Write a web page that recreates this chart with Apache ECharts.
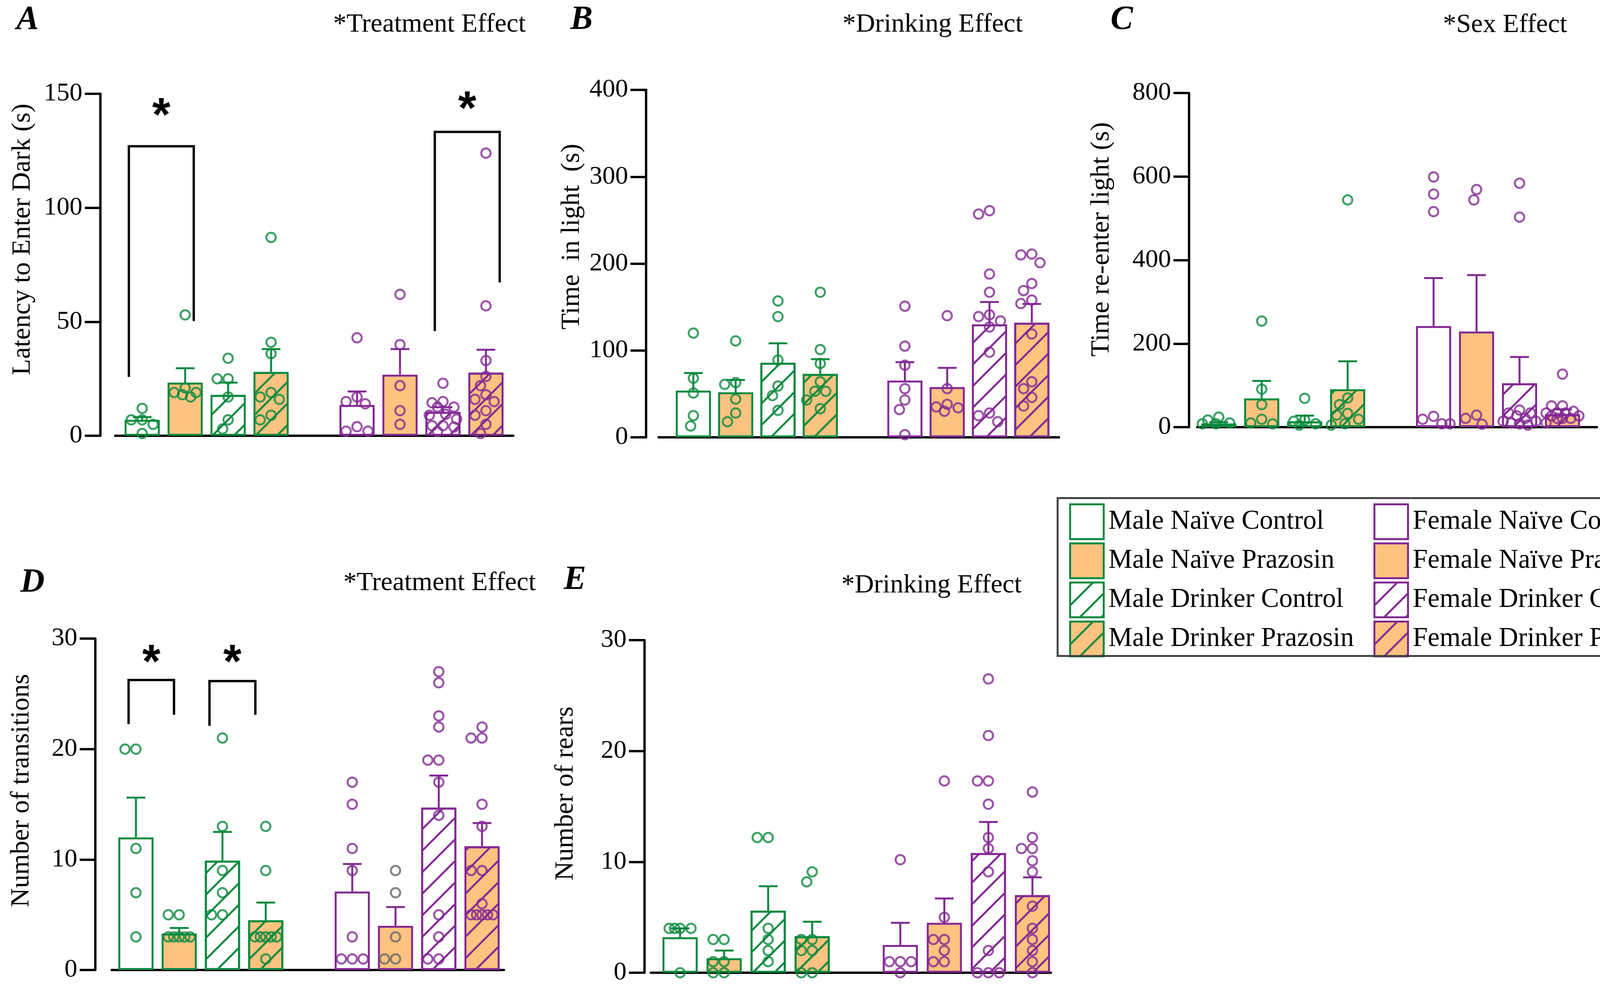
<!DOCTYPE html>
<html>
<head>
<meta charset="utf-8">
<title>Light-dark box</title>
<script src="https://cdn.jsdelivr.net/npm/echarts@6/dist/echarts.min.js"></script>
<style>
    html, body { margin: 0; padding: 0; background: #fff; }
    #main { width: 4342px; height: 2546px; }
</style>
</head>
<body>
<div id="main"></div>
<script>
// groups in plotting order, slot 5 is the gap between male and female
var groups = ['Male Naïve Control', 'Male Naïve Prazosin', 'Male Drinker Control', 'Male Drinker Prazosin',
    'Female Naïve Control', 'Female Naïve Prazosin', 'Female Drinker Control', 'Female Drinker Prazosin'];
var slots = [1, 2, 3, 4, 6, 7, 8, 9];

// A - latency to enter dark
var latencyMeans = [7, 23.3, 17.9, 28, 13.5, 26.8, 10.5, 27.7];
var latencySems = [1.2, 6.3, 5.4, 10, 5.9, 11.2, 2, 10];
var latencyPoints = [
    [12, 7, 7, 5, 1],
    [53, 21, 19, 19, 18, 17],
    [34, 25, 25, 17, 7, 3],
    [87, 41, 36, 19, 17, 16, 9, 7],
    [43, 17, 15, 14, 4, 2, 2],
    [62, 40, 22, 11, 5],
    [23, 15, 14.5, 12.6, 12.6, 9.4, 9, 7.3, 4.4, 4.4, 3.8, 1.9],
    [124, 57, 33, 26, 22, 18, 16, 15, 11, 9, 5, 1]
];
var latencyBrackets = [
    { x1: 0.69, x2: 2.2, top: 127, y1: 25.8, y2: 50.3, star: 144 },
    { x1: 7.81, x2: 9.32, top: 133.3, y1: 45.9, y2: 67.3, star: 147 }
];

// B - time in light
var lightMeans = [53.8, 51.8, 85.8, 73, 65.3, 57.8, 130, 132];
var lightSems = [20.2, 14.2, 22.4, 17, 21.2, 22.2, 25.8, 21.5];
var lightPoints = [
    [120, 68, 51, 25, 13],
    [111, 63, 61, 44, 28, 18],
    [157, 139, 89, 59, 48, 31],
    [167, 101, 85, 64, 53, 53, 43, 33],
    [151, 105, 83, 56, 43, 32, 3],
    [140, 56, 38, 35, 34, 30],
    [261, 257, 188, 167, 141, 139, 134, 127, 98, 28, 25, 18],
    [211, 210, 201, 177, 169, 158, 154, 119, 64, 56, 46, 36]
];

// C - time to re-enter light
var reenterMeans = [9, 68.7, 13.7, 90.7, 242, 229, 105, 31];
var reenterSems = [3, 42, 14, 67, 115, 135, 63, 11.6];
var reenterPoints = [
    [24, 17, 10, 8, 8],
    [254, 91, 54, 19, 10, 8],
    [69, 17, 14, 8, 5],
    [544, 70, 54, 33, 29, 19, 8, 5],
    [599, 558, 516, 26, 19, 8, 8],
    [569, 544, 29, 21, 7],
    [584, 503, 41, 34, 34, 27, 21, 14, 14, 10, 8, 5],
    [127, 51, 51, 38, 34, 34, 34, 27, 27, 21, 21, 21, 10]
];

// D - number of transitions
var transMeans = [12, 3.3, 9.9, 4.5, 7.1, 4, 14.7, 11.2];
var transSems = [3.6, 0.5, 2.6, 1.6, 2.5, 1.7, 2.9, 2.1];
var transPoints = [
    [20, 20, 11, 7, 3],
    [5, 5, 3, 3, 3, 3, 3],
    [21, 13, 9, 7, 5, 5],
    [13, 9, 3, 3, 3, 3, 3, 1],
    [17, 15, 11, 9, 3, 1, 1, 1],
    [9, 7, 3, 1, 1],
    [27, 26, 23, 22, 19, 19, 17, 14, 5, 3, 1, 1],
    [22, 21, 21, 15, 13, 9, 9, 6, 5, 5, 5, 5, 5]
];
var transBrackets = [
    { x1: 0.83, x2: 1.88, top: 26.25, y1: 22.25, y2: 23.1, star: 28.6 },
    { x1: 2.70, x2: 3.76, top: 26.15, y1: 22.1, y2: 23.1, star: 28.6 }
];

// E - number of rears
var rearMeans = [3.2, 1.3, 5.6, 3.3, 2.5, 4.5, 10.8, 7];
var rearSems = [0.8, 0.7, 2.2, 1.3, 2, 2.2, 2.8, 1.6];
var rearPoints = [
    [4, 4, 4, 4, 0],
    [3, 3, 1, 1, 0, 0],
    [12.2, 12.2, 4, 3, 2, 1],
    [9.1, 8.2, 3, 3, 2, 2, 0, 0],
    [10.2, 1, 1, 1, 0],
    [17.3, 5, 3, 3, 2, 1, 1],
    [26.5, 21.4, 17.3, 17.3, 15.2, 12.2, 11.2, 9.1, 2, 0, 0, 0],
    [16.3, 12.2, 11.2, 11.2, 10.1, 9.1, 6, 4, 3, 2, 1, 0]
];

var GREEN = '#0b8a3f';
var PURPLE = '#832994';
var ORANGE = '#fec380';
var FONT = 'Liberation Serif';

var panels = [
    { label: 'A', effect: '*Treatment Effect', name: 'Latency to Enter Dark (s)', max: 150, interval: 50,
      means: latencyMeans, sems: latencySems, points: latencyPoints, brackets: latencyBrackets,
      axisX: 257, left: 295, right: 1314, top: 240, bottom: 1115, slot1: 364, step: 110,
      nameGap: 165, nameShift: 65, labelPos: [42, 9], effectPos: [853, 29] },
    { label: 'B', effect: '*Drinking Effect', name: 'Time  in light  (s)', max: 400, interval: 100,
      means: lightMeans, sems: lightSems, points: lightPoints, brackets: [],
      axisX: 1654, left: 1686, right: 2711, top: 230, bottom: 1119, slot1: 1775, step: 108.3,
      nameGap: 156, nameShift: 69, labelPos: [1460, 9], effectPos: [2157, 29] },
    { label: 'C', effect: '*Sex Effect', name: 'Time re-enter light (s)', max: 800, interval: 200,
      means: reenterMeans, sems: reenterSems, points: reenterPoints, brackets: [],
      axisX: 3044, left: 3065, right: 4088, top: 238, bottom: 1093, slot1: 3120, step: 110,
      nameGap: 190, nameShift: 53, labelPos: [2843, 9], effectPos: [3694, 30] },
    { label: 'D', effect: '*Treatment Effect', name: 'Number of transitions', max: 30, interval: 10,
      means: transMeans, sems: transSems, points: transPoints, brackets: transBrackets, grayGroup: 5,
      axisX: 244, left: 286, right: 1290, top: 1634, bottom: 2482, slot1: 348, step: 110.75,
      nameGap: 155, nameShift: 35, labelPos: [52, 1449], effectPos: [879, 1458] },
    { label: 'E', effect: '*Drinking Effect', name: 'Number of rears', max: 30, interval: 10,
      means: rearMeans, sems: rearSems, points: rearPoints, brackets: [],
      axisX: 1650, left: 1666, right: 2690, top: 1638, bottom: 2489, slot1: 1741, step: 112.75,
      nameGap: 168, nameShift: 33, labelPos: [1443, 1442], effectPos: [2154, 1464] }
];

function groupStyle(g) {
    var line = g < 4 ? GREEN : PURPLE;
    var style = {
        color: (g % 2 === 1) ? ORANGE : '#ffffff',
        borderColor: line,
        borderWidth: 5
    };
    if (g % 4 >= 2) {
        style.decal = {
            symbol: 'rect',
            symbolSize: 1,
            dashArrayX: [1, 0],
            dashArrayY: [5, 34],
            rotation: -Math.PI / 4,
            color: line
        };
    }
    return style;
}

// simple beeswarm: push points sideways until they stop overlapping,
// but keep them inside the bar; if no room, take the least crowded spot
function swarm(values, pxPerY, pxPerX) {
    var D = 27, step = 7, maxOff = 42;
    var placed = [];
    var out = [];
    values.forEach(function (v) {
        var py = v * pxPerY;
        var best = 0, bestDist = -1;
        for (var i = 0; i < 40; i++) {
            var off = i === 0 ? 0 : (i % 2 ? -1 : 1) * Math.ceil(i / 2) * step;
            if (Math.abs(off) > maxOff) break;
            var dmin = Infinity;
            placed.forEach(function (p) {
                var d = Math.sqrt((p[0] - off) * (p[0] - off) + (p[1] - py) * (p[1] - py));
                if (d < dmin) dmin = d;
            });
            if (dmin >= D) { best = off; bestDist = dmin; break; }
            if (dmin > bestDist) { best = off; bestDist = dmin; }
        }
        placed.push([best, py]);
        out.push(best / pxPerX);
    });
    return out;
}

var grids = [], xAxes = [], yAxes = [], series = [], titles = [];

panels.forEach(function (p, i) {
    grids.push({ left: p.left, top: p.top, width: p.right - p.left, height: p.bottom - p.top });
    xAxes.push({
        gridIndex: i, type: 'value',
        min: 1 - (p.slot1 - p.left) / p.step,
        max: 1 + (p.right - p.slot1) / p.step,
        axisLine: { show: true, onZero: false, lineStyle: { color: '#000', width: 6 } },
        axisTick: { show: false }, axisLabel: { show: false }, splitLine: { show: false }
    });
    yAxes.push({
        gridIndex: i, type: 'value', min: 0, max: p.max, interval: p.interval,
        offset: p.left - p.axisX,
        name: p.name, nameLocation: 'middle', nameGap: p.nameGap,
        nameTextStyle: { fontFamily: FONT, fontSize: 68, color: '#000', padding: [0, 0, 0, 2 * p.nameShift] },
        axisLine: { show: true, lineStyle: { color: '#000', width: 6 } },
        axisTick: { show: true, length: 40, lineStyle: { color: '#000', width: 6 } },
        axisLabel: { fontFamily: FONT, fontSize: 66, color: '#000', margin: 46 },
        splitLine: { show: false }
    });
    titles.push({ text: p.label, left: p.labelPos[0], top: p.labelPos[1], padding: 0,
        textStyle: { fontFamily: FONT, fontSize: 86, fontWeight: 'bold', fontStyle: 'italic', color: '#000' } });
    titles.push({ text: p.effect, left: p.effectPos[0], top: p.effectPos[1], padding: 0,
        textStyle: { fontFamily: FONT, fontSize: 68, fontWeight: 'normal', color: '#000' } });

    var pxPerY = (p.bottom - p.top) / p.max;

    groups.forEach(function (g, k) {
        series.push({
            name: g, type: 'bar', xAxisIndex: i, yAxisIndex: i,
            barWidth: 90, barGap: '-100%', z: 2,
            itemStyle: groupStyle(k),
            data: [[slots[k], p.means[k]]]
        });
    });

    var errData = p.means.map(function (m, k) { return [slots[k], m, p.sems[k], k]; });
    series.push({
        type: 'custom', xAxisIndex: i, yAxisIndex: i, z: 3,
        data: errData,
        renderItem: function (params, api) {
            var x = api.value(0), m = api.value(1), s = api.value(2);
            var col = api.value(3) < 4 ? GREEN : PURPLE;
            var a = api.coord([x, m]);
            var b = api.coord([x, m + s]);
            return {
                type: 'group',
                children: [
                    { type: 'line', shape: { x1: a[0], y1: a[1], x2: b[0], y2: b[1] }, style: { stroke: col, lineWidth: 5 } },
                    { type: 'line', shape: { x1: b[0] - 24, y1: b[1], x2: b[0] + 24, y2: b[1] }, style: { stroke: col, lineWidth: 5 } }
                ]
            };
        }
    });

    p.points.forEach(function (vals, k) {
        var offs = swarm(vals, pxPerY, p.step);
        var col = k < 4 ? GREEN : PURPLE;
        if (p.grayGroup === k) col = '#666666';
        series.push({
            type: 'scatter', xAxisIndex: i, yAxisIndex: i, z: 4,
            symbol: 'circle', symbolSize: 24, silent: true,
            itemStyle: { color: 'rgba(255,255,255,0)', borderColor: col, borderWidth: 5 },
            data: vals.map(function (v, j) { return [slots[k] + offs[j], v]; })
        });
    });

    if (p.brackets.length) {
        series.push({
            type: 'custom', xAxisIndex: i, yAxisIndex: i, z: 5, silent: true,
            data: p.brackets.map(function (br) { return [br.x1, br.x2, br.top, br.y1, br.y2, br.star]; }),
            renderItem: function (params, api) {
                var x1 = api.value(0), x2 = api.value(1), top = api.value(2);
                var a = api.coord([x1, api.value(3)]);
                var b = api.coord([x1, top]);
                var c = api.coord([x2, top]);
                var d = api.coord([x2, api.value(4)]);
                var s = api.coord([(x1 + x2) / 2, api.value(5)]);
                return {
                    type: 'group',
                    children: [
                        { type: 'polyline', shape: { points: [a, b, c, d] },
                          style: { stroke: '#000', lineWidth: 6, fill: null, lineJoin: 'miter' } },
                        { type: 'text', x: s[0], y: s[1] + 26,
                          style: { text: '*', fill: '#000', font: 'bold 120px "Liberation Sans"',
                                   align: 'center', verticalAlign: 'middle' } }
                    ]
                };
            }
        });
    }
});

var legendBase = {
    orient: 'vertical', icon: 'rect', itemWidth: 86, itemHeight: 89, itemGap: 6,
    padding: 0, selectedMode: false, top: 1288,
    itemStyle: { borderWidth: 5 },
    textStyle: { fontFamily: FONT, fontSize: 69, color: '#000', padding: [0, 0, 0, 7] }
};

var myChart = echarts.init(document.getElementById('main'), null, { renderer: 'canvas' });
myChart.setOption({
    backgroundColor: '#ffffff',
    animation: false,
    title: titles,
    grid: grids,
    xAxis: xAxes,
    yAxis: yAxes,
    legend: [
        Object.assign({}, legendBase, { left: 2737, data: groups.slice(0, 4) }),
        Object.assign({}, legendBase, { left: 3516, data: groups.slice(4) })
    ],
    graphic: [{
        type: 'rect', left: 2705, top: 1272, z: 10,
        shape: { width: 1630, height: 404 },
        style: { fill: 'none', stroke: '#444444', lineWidth: 5 }
    }],
    series: series
});
</script>
</body>
</html>
